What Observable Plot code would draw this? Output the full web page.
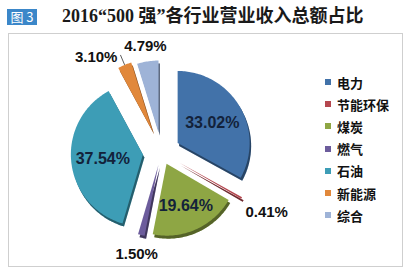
<!DOCTYPE html>
<html><head><meta charset="utf-8">
<script src="https://cdn.jsdelivr.net/npm/d3@7"></script>
<script src="https://cdn.jsdelivr.net/npm/@observablehq/plot@0.6"></script>
<style>
body{margin:0;background:#fff;width:407px;height:275px;overflow:hidden;position:relative;font-family:"Liberation Sans",Arial,sans-serif;}
#badge{position:absolute;left:7px;top:9px;width:30px;height:16px;background:#3b87c9;color:#fff;font:13px "Noto Sans CJK SC";line-height:16px;text-align:center;}
#title{position:absolute;left:62px;top:3px;font:bold 18px "Liberation Serif","Noto Sans CJK SC";color:#1a1a1a;white-space:nowrap;line-height:26px;}
#frame{position:absolute;left:8px;top:33px;width:393px;height:232px;border:1px solid #cfcfcf;}
#chart{position:absolute;left:0;top:0;}
#legend{position:absolute;left:316px;top:37px;}
#legend > div{margin:0 !important;font:bold 13px "Noto Sans CJK SC" !important;color:#111 !important;}
#legend > div > div{height:22.2px !important;padding:0 !important;display:flex !important;align-items:center !important;}
#legend svg{margin-right:6px !important;}
</style></head>
<body>
<div id="badge">图 3</div>
<div id="title">2016“500 强”各行业营业收入总额占比</div>
<div id="frame"><div id="chart"></div><div id="legend"></div></div>
<script>
const categories = ["电力","节能环保","煤炭","燃气","石油","新能源","综合"];
const shares = [33.02,0.41,19.64,1.50,37.54,3.10,4.79];
const labels = ["33.02%","0.41%","19.64%","1.50%","37.54%","3.10%","4.79%"];
const colors = ["#4272a9","#b5474f","#8ea644","#6c5c9c","#3d9db6","#e1883b","#9eb3d7"];
const explode = [0.26,0.28,0.17,0.18,0.26,0.32,0.28];
const labelR = [0.82,1.68,0.82,1.45,0.82,1.47,1.49];
const leaderFor = ["新能源"];

const W = 393, H = 232, k = 72, cx0 = 152, cy0 = 118;
const arcs = d3.pie().sort(null).value(d => d)(shares);
const poly = [];
const lab = [];
const leaders = [];
arcs.forEach((a, i) => {
  const m = (a.startAngle + a.endAngle) / 2, e = explode[i];
  const ox = e * Math.sin(m), oy = e * Math.cos(m);
  const cat = categories[i];
  poly.push({cat, x: ox, y: oy});
  const n = Math.max(2, Math.ceil((a.endAngle - a.startAngle) / 0.02));
  for (let j = 0; j <= n; j++) {
    const t = a.startAngle + (a.endAngle - a.startAngle) * j / n;
    poly.push({cat, x: ox + Math.sin(t), y: oy + Math.cos(t)});
  }
  const r = labelR[i];
  const inside = r < 1;
  const isLeader = leaderFor.includes(cat);
  lab.push({cat, text: labels[i], x: r * Math.sin(m), y: r * Math.cos(m), inside, isLeader});
  if (isLeader) leaders.push({x1: 1.32 * Math.sin(m), y1: 1.32 * Math.cos(m), x2: r * Math.sin(m), y2: r * Math.cos(m)});
});

const chart = Plot.plot({
  width: W, height: H, margin: 0,
  style: {background: "transparent", overflow: "visible"},
  x: {domain: [-cx0 / k, (W - cx0) / k], axis: null},
  y: {domain: [-(H - cy0) / k, cy0 / k], axis: null},
  color: {type: "ordinal", domain: categories, range: colors},
  marks: [
    Plot.line(poly, {x: "x", y: "y", z: "cat", fill: "cat", stroke: null, curve: "linear-closed", dx: 1.5, dy: 3}),
    Plot.line(poly, {x: "x", y: "y", z: "cat", fill: "#000", fillOpacity: 0.4, stroke: null, curve: "linear-closed", dx: 1.5, dy: 3}),
    Plot.line(poly, {x: "x", y: "y", z: "cat", fill: "cat", stroke: null, curve: "linear-closed"}),
    Plot.link(leaders, {x1: "x1", y1: "y1", x2: "x2", y2: "y2", stroke: "#333", strokeWidth: 0.8}),
    Plot.text(lab.filter(d => d.inside), {x: "x", y: "y", text: "text", fill: "#13223a", fontSize: 16, fontWeight: "bold", fontFamily: "Liberation Sans"}),
    Plot.text(lab.filter(d => !d.inside && !d.isLeader), {x: "x", y: "y", text: "text", fill: "#111", fontSize: 15, fontWeight: "bold", fontFamily: "Liberation Sans"}),
    Plot.text(lab.filter(d => d.isLeader), {x: "x", y: "y", text: "text", fill: "#111", fontSize: 15, fontWeight: "bold", fontFamily: "Liberation Sans", textAnchor: "end", dx: -3, dy: 2})
  ]
});
document.getElementById("chart").appendChild(chart);

const legend = Plot.legend({color: {type: "ordinal", domain: categories, range: colors}, legend: "swatches", columns: 1, swatchSize: 6});
document.getElementById("legend").appendChild(legend);
</script>
</body></html>
